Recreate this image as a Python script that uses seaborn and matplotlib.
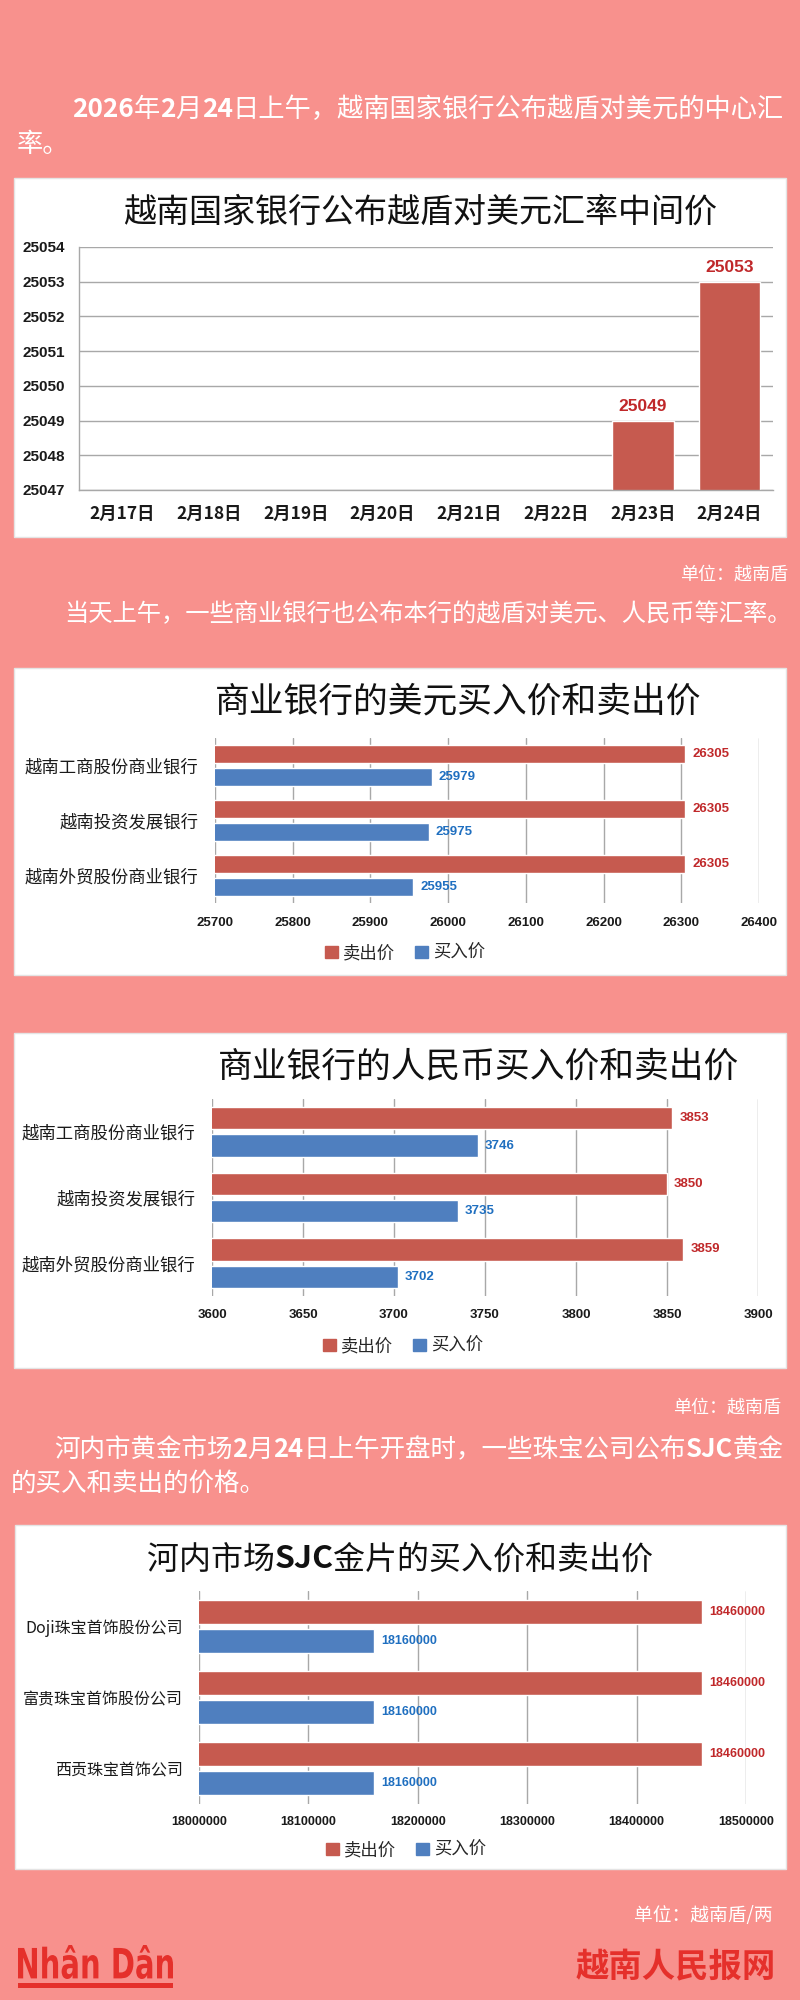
import numpy as np
import pandas as pd
import matplotlib
matplotlib.use("Agg")
import matplotlib.pyplot as plt
import seaborn as sns
from matplotlib.patches import Rectangle, Patch, PathPatch
from matplotlib.textpath import TextPath
from matplotlib.font_manager import FontProperties
from matplotlib.transforms import Affine2D, IdentityTransform

# ---------------- data ----------------
dates = ["2月17日", "2月18日", "2月19日", "2月20日", "2月21日", "2月22日", "2月23日", "2月24日"]
central_rate = [np.nan, np.nan, np.nan, np.nan, np.nan, np.nan, 25049, 25053]

banks = ["越南工商股份商业银行", "越南投资发展银行", "越南外贸股份商业银行"]
usd_sell = [26305, 26305, 26305]
usd_buy = [25979, 25975, 25955]
cny_sell = [3853, 3850, 3859]
cny_buy = [3746, 3735, 3702]

gold_companies = ["Doji珠宝首饰股份公司", "富贵珠宝首饰股份公司", "西贡珠宝首饰公司"]
gold_sell = [18460000, 18460000, 18460000]
gold_buy = [18160000, 18160000, 18160000]

price_types = ["卖出价", "买入价"]

title1 = "越南国家银行公布越盾对美元汇率中间价"
title2 = "商业银行的美元买入价和卖出价"
title3 = "商业银行的人民币买入价和卖出价"
title4_runs = [("河内市场", "normal"), ("SJC", "bold"), ("金片的买入价和卖出价", "normal")]

para1_line1 = [("2026", "bold"), ("年", "normal"), ("2", "bold"), ("月", "normal"),
               ("24", "bold"), ("日上午，越南国家银行公布越盾对美元的中心汇", "normal")]
para1_line2 = "率。"
para2 = "当天上午，一些商业银行也公布本行的越盾对美元、人民币等汇率。"
para3_line1 = [("河内市黄金市场", "normal"), ("2", "bold"), ("月", "normal"), ("24", "bold"),
               ("日上午开盘时，一些珠宝公司公布", "normal"), ("SJC", "bold"), ("黄金", "normal")]
para3_line2 = "的买入和卖出的价格。"
unit1 = "单位：越南盾"
unit2 = "单位：越南盾/两"
logo_text = "Nhân Dân"
brand_cn = "越南人民报网"

# ---------------- style ----------------
sns.set_style("white")
CJK = ["Noto Sans CJK SC", "DejaVu Sans"]
plt.rcParams["font.family"] = CJK
plt.rcParams["axes.unicode_minus"] = False

BG = "#F8918D"
RED = "#C65A4F"
BLUE = "#4F7FBF"
RED_TXT = "#C0282A"
BLUE_TXT = "#1F6FC0"
GRID = "#A8A8A8"
LOGO_RED = "#E5302B"
NUMFONT = ["Liberation Sans", "DejaVu Sans"]

W, H = 800, 2000
fig = plt.figure(figsize=(8, 20), dpi=100)
fig.patch.set_facecolor(BG)


def fx(x):
    return x / W


def fy(y):
    return 1 - y / H


def axes_px(l, t, r, b):
    ax = fig.add_axes([l / W, 1 - b / H, (r - l) / W, (b - t) / H])
    ax.set_facecolor("none")
    return ax


def box(l, t, r, b):
    fig.add_artist(Rectangle((fx(l), fy(b)), (r - l) / W, (b - t) / H,
                             transform=fig.transFigure, facecolor="white",
                             edgecolor="#e4e4e4", lw=1, zorder=-1))


renderer = fig.canvas.get_renderer()


def draw_runs(x, y_center, runs, size, color, ha="left"):
    px = size * 100 / 72
    y_base = y_center + 0.36 * px
    texts = []
    cur = x
    for s, w in runs:
        t = fig.text(fx(cur), fy(y_base), s, fontsize=size, fontweight=w,
                     color=color, ha="left", va="baseline", family=CJK)
        cur += t.get_window_extent(renderer).width
        texts.append(t)
    if ha == "center":
        shift = (cur - x) / 2
        for t in texts:
            px0, py0 = t.get_position()
            t.set_x(px0 - shift / W)
    return texts


# ---------------- white boxes ----------------
box(14, 178, 786, 537)
box(14, 668, 786, 975)
box(14, 1033, 786, 1368)
box(15, 1525, 786, 1869)

# ---------------- paragraphs ----------------
TXT = "#FFFFFF"
draw_runs(72, 108, para1_line1, 18.9, TXT)
draw_runs(17, 143, [(para1_line2, "normal")], 18.9, TXT)
fig.text(fx(788), fy(575), unit1, fontsize=13, color=TXT, ha="right", va="center")
draw_runs(64, 612, [(para2, "normal")], 17.5, TXT)
fig.text(fx(781), fy(1408), unit1, fontsize=13, color=TXT, ha="right", va="center")
draw_runs(54, 1448, para3_line1, 18.4, TXT)
draw_runs(11, 1482, [(para3_line2, "normal")], 18.4, TXT)
fig.text(fx(773), fy(1915), unit2, fontsize=13.5, color=TXT, ha="right", va="center")

# ---------------- chart 1 ----------------
ax1 = axes_px(79, 247, 773, 490)
sns.barplot(x=dates, y=central_rate, order=dates, color=RED, saturation=1,
            width=0.71, ax=ax1)
ax1.set_ylim(25047, 25054)
ax1.set_yticks(list(range(25047, 25055)))
ax1.yaxis.grid(True, color=GRID, lw=1)
ax1.set_axisbelow(True)
for s in ["top", "right"]:
    ax1.spines[s].set_visible(False)
for s in ["left", "bottom"]:
    ax1.spines[s].set_color(GRID)
    ax1.spines[s].set_linewidth(1)
ax1.set_xlabel("")
ax1.set_ylabel("")
ax1.tick_params(axis="y", length=0, pad=10)
ax1.tick_params(axis="x", length=0, pad=11)
for lbl in ax1.get_yticklabels():
    lbl.set_fontfamily(NUMFONT)
    lbl.set_fontweight("bold")
    lbl.set_fontsize(11)
    lbl.set_color("#1a1a1a")
for lbl in ax1.get_xticklabels():
    lbl.set_fontweight("bold")
    lbl.set_fontsize(12.5)
    lbl.set_color("#1a1a1a")
for i, v in enumerate(central_rate):
    if not np.isnan(v):
        ax1.annotate(f"{int(v)}", (i, v), xytext=(0, 5), textcoords="offset points",
                     ha="center", va="bottom", color=RED_TXT, fontsize=12.5,
                     fontweight="bold", family=NUMFONT)
fig.text(fx(420), fy(212), title1, fontsize=23.8, color="#111111", ha="center", va="center")


# ---------------- horizontal charts ----------------
def hbar_chart(rect, cats, sell, buy, xlim, step, title, title_xy, legend_xy,
               val_size=9, cat_pad=12, tick_pad=9, cat_size=12.5, title_size=25):
    ax = axes_px(*rect)
    df = pd.DataFrame({
        "cat": list(cats) + list(cats),
        "price": list(sell) + list(buy),
        "type": [price_types[0]] * len(cats) + [price_types[1]] * len(cats),
    })
    sns.barplot(data=df, x="price", y="cat", hue="type", hue_order=price_types,
                palette=[RED, BLUE], orient="h", width=0.84, gap=0.19,
                saturation=1, legend=False, ax=ax)
    ax.set_xlim(*xlim)
    ax.set_xticks(np.arange(xlim[0], xlim[1] + step / 2, step))
    ax.ticklabel_format(axis="x", style="plain", useOffset=False)
    ax.xaxis.grid(True, color=GRID, lw=1)
    ax.yaxis.grid(False)
    ax.set_axisbelow(True)
    for s in ax.spines.values():
        s.set_visible(False)
    ax.set_xlabel("")
    ax.set_ylabel("")
    ax.tick_params(axis="x", length=0, pad=tick_pad)
    ax.tick_params(axis="y", length=0, pad=cat_pad)
    for lbl in ax.get_xticklabels():
        lbl.set_fontfamily(NUMFONT)
        lbl.set_fontweight("bold")
        lbl.set_fontsize(val_size)
        lbl.set_color("#1a1a1a")
    for lbl in ax.get_yticklabels():
        lbl.set_fontsize(cat_size)
        lbl.set_color("#1a1a1a")
    for cont, c in zip(ax.containers, [RED_TXT, BLUE_TXT]):
        ax.bar_label(cont, fmt="%d", padding=5, color=c, fontsize=val_size,
                     fontweight="bold", family=NUMFONT)
    if isinstance(title, str):
        fig.text(fx(title_xy[0]), fy(title_xy[1]), title, fontsize=title_size,
                 color="#111111", ha="center", va="center")
    else:
        draw_runs(title_xy[0], title_xy[1], title, title_size, "#111111", ha="center")
    fig.legend(handles=[Patch(color=RED), Patch(color=BLUE)], labels=price_types,
               loc="center", bbox_to_anchor=(fx(legend_xy[0]), fy(legend_xy[1])),
               ncol=2, frameon=False, fontsize=12.5, handlelength=0.75,
               handleheight=0.75, handletextpad=0.3, columnspacing=1.1)
    return ax


hbar_chart((215, 738, 759, 903), banks, usd_sell, usd_buy, (25700, 26400), 100,
           title2, (458, 702), (405, 953), val_size=9.5, cat_pad=12, tick_pad=10)
hbar_chart((212, 1099, 758, 1296), banks, cny_sell, cny_buy, (3600, 3900), 50,
           title3, (478, 1067), (403, 1346), val_size=9.5, cat_pad=12, tick_pad=9.5)
hbar_chart((199, 1591, 746, 1804), gold_companies, gold_sell, gold_buy,
           (18000000, 18500000), 100000, title4_runs, (400, 1557), (406, 1850),
           val_size=9, cat_pad=11.5, tick_pad=8.5, cat_size=11.5, title_size=23)

# ---------------- footer logos ----------------
fp = FontProperties(family="DejaVu Sans", weight="bold")
tp = TextPath((0, 0), logo_text, size=40, prop=fp)
bb = tp.get_extents()
l, r, t, b = 18, 173, 1945, 1979
tr = (Affine2D().translate(-bb.x0, -bb.y0)
      .scale((r - l) / bb.width, (b - t) / bb.height)
      .translate(l, H - b))
fig.add_artist(PathPatch(tr.transform_path(tp), transform=IdentityTransform(),
                         facecolor=LOGO_RED, lw=0))
fig.add_artist(Rectangle((18, H - 1988), 155, 5, transform=IdentityTransform(),
                         facecolor=LOGO_RED, lw=0))
fig.text(fx(776), fy(1968), brand_cn, fontsize=24, fontweight="bold",
         color=LOGO_RED, ha="right", va="center")

fig.savefig("out.png", dpi=100, facecolor=BG)
